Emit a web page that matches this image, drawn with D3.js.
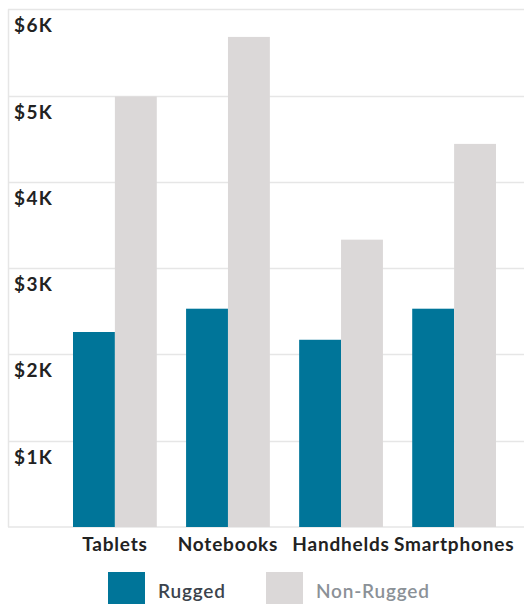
<!DOCTYPE html>
<html>
<head>
<meta charset="utf-8">
<script src="https://cdn.jsdelivr.net/npm/d3@7"></script>
<style>
  html, body { margin: 0; padding: 0; background: #fff; }
  svg { display: block; }
  text { font-family: Lato, "Open Sans", sans-serif; }
</style>
</head>
<body>
<svg id="chart" width="524" height="604"></svg>
<script>
// Average device price (USD) by category
const categories = ["Tablets", "Notebooks", "Handhelds", "Smartphones"];
const ruggedValues = [2260, 2530, 2170, 2530];
const nonRuggedValues = [4990, 5680, 3330, 4440];
const seriesNames = ["Rugged", "Non-Rugged"];
const yTicks = [1000, 2000, 3000, 4000, 5000, 6000];
const yTickLabels = ["$1K", "$2K", "$3K", "$4K", "$5K", "$6K"];

const colors = { "Rugged": "#007599", "Non-Rugged": "#dbd8d8" };

const svg = d3.select("#chart");
const plot = { left: 8, right: 524, top: 9.3, bottom: 527 };

const rows = categories.map((c, i) => ({
  category: c,
  values: [
    { series: "Rugged", value: ruggedValues[i] },
    { series: "Non-Rugged", value: nonRuggedValues[i] }
  ]
}));

const y = d3.scaleLinear().domain([0, 6000]).range([plot.bottom, plot.top]);

const x0 = d3.scaleBand()
  .domain(categories)
  .range([73, 496])
  .paddingInner(0.259)
  .paddingOuter(0);

const x1 = d3.scaleBand()
  .domain(seriesNames)
  .range([0, x0.bandwidth()]);

// Grid lines
svg.append("g").selectAll("line")
  .data(yTicks)
  .join("line")
  .attr("x1", plot.left)
  .attr("x2", plot.right)
  .attr("y1", d => Math.round(y(d)) + 0.5)
  .attr("y2", d => Math.round(y(d)) + 0.5)
  .attr("stroke", "#e6e6e6")
  .attr("stroke-width", 1.5);

// Plot frame: left edge and baseline
svg.append("line")
  .attr("x1", plot.left + 0.5).attr("x2", plot.left + 0.5)
  .attr("y1", y(6000)).attr("y2", plot.bottom)
  .attr("stroke", "#e6e6e6").attr("stroke-width", 1.5);
svg.append("line")
  .attr("x1", plot.left).attr("x2", plot.right)
  .attr("y1", plot.bottom).attr("y2", plot.bottom)
  .attr("stroke", "#e6e6e6").attr("stroke-width", 1.5);

// Bars
const groups = svg.append("g")
  .selectAll("g")
  .data(rows)
  .join("g")
  .attr("transform", d => `translate(${x0(d.category)},0)`);

groups.selectAll("rect")
  .data(d => d.values)
  .join("rect")
  .attr("x", d => x1(d.series))
  .attr("width", x1.bandwidth())
  .attr("y", d => y(d.value))
  .attr("height", d => y(0) - y(d.value))
  .attr("fill", d => colors[d.series]);

// Y tick labels, sitting just under each grid line
svg.append("g")
  .selectAll("text")
  .data(yTicks)
  .join("text")
  .attr("x", 14)
  .attr("y", d => y(d) + 23)
  .attr("font-size", 19)
  .attr("font-weight", 700)
  .attr("letter-spacing", 1.4)
  .attr("fill", "#222")
  .text((d, i) => yTickLabels[i]);

// Category axis labels
const xAxis = d3.axisBottom(x0).tickSize(0).tickPadding(0);
const xg = svg.append("g")
  .attr("transform", `translate(0,${plot.bottom})`)
  .call(xAxis);
xg.select(".domain").remove();
xg.selectAll("text")
  .attr("dy", 0)
  .attr("y", 24)
  .attr("font-size", 19)
  .attr("font-weight", 700)
  .attr("letter-spacing", 0.8)
  .attr("font-family", "Lato, sans-serif")
  .attr("fill", "#222");

// Legend
const legendItems = [
  { name: "Rugged", swatchX: 108, textColor: "#3b434c" },
  { name: "Non-Rugged", swatchX: 266, textColor: "#8b9197" }
];
const lg = svg.append("g").selectAll("g")
  .data(legendItems)
  .join("g")
  .attr("transform", d => `translate(${d.swatchX},572)`);
lg.append("rect")
  .attr("width", 37)
  .attr("height", 34)
  .attr("fill", d => colors[d.name]);
lg.append("text")
  .attr("x", 50)
  .attr("y", 26)
  .attr("font-size", 19)
  .attr("font-weight", 600)
  .attr("letter-spacing", 0.8)
  .attr("fill", d => d.textColor)
  .text(d => d.name);
</script>
</body>
</html>
